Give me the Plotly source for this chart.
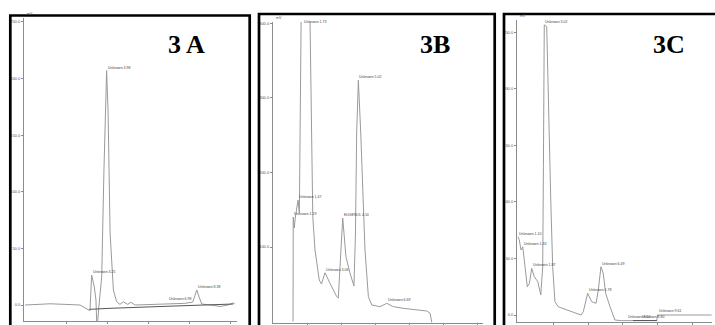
import plotly.graph_objects as go

W, H = 715, 325

# ---------------- Panel 3A data (time in min, signal in mV) ----------------
a_time = [0.0, 0.68, 1.22, 1.95, 2.68, 3.02, 3.17, 3.25, 3.38, 3.46, 3.51, 3.61,
          3.74, 3.85, 3.98, 4.05, 4.15, 4.31, 4.47, 4.63, 4.80, 5.01, 5.16, 5.37,
          6.10, 6.93, 7.80, 8.18, 8.38, 8.49, 8.62, 9.17, 9.51, 9.90, 10.15, 10.24]
a_signal = [0, 0.9, 1.1, 0.6, 0, -3.5, -4.9, 26.5, 15.9, 4.4, -22, 0,
            24.7, 119, 207, 172, 63.6, 13.3, 2.9, 0.6, 2.9, 0.6, 2.4, 0,
            0.4, 1.3, 1.5, 2.6, 13.3, 7.1, 0.9, -0.3, -1.3, 0, 1.8, 0.9]
a_base_time = [3.14, 4.15, 6.93, 8.54, 10.15]
a_base_signal = [-3.8, -2.9, -1.1, 0, 0.9]
a_peak_time = [3.25, 3.98, 6.98, 8.38]
a_peak_signal = [26.5, 207, 2.6, 13.3]
a_peak_names = ["Unknown 3.25", "Unknown 3.98", "Unknown 6.98", "Unknown 8.38"]
a_yticks = [0, 50, 100, 150, 200, 250]
a_yticklabels = ["0.0", "50.0", "100.0", "150.0", "200.0", "250.0"]
a_xticks = [2, 4, 6, 8, 10]
a_xticklabels = ["2.0", "4.0", "6.0", "8.0", "10.0"]

# ---------------- Panel 3B data ----------------
b_time = [1.18, 1.19, 1.25, 1.31, 1.47, 1.55, 1.66, 1.92, 2.18, 2.34, 2.47, 2.72,
          2.85, 3.06, 3.35, 3.75, 3.84, 3.98, 4.10, 4.29, 4.53, 4.76, 4.85, 4.92,
          5.02, 5.16, 5.31, 5.41, 5.61, 5.81, 6.29, 6.69, 7.08, 7.66, 9.04, 9.24, 9.34]
b_signal = [0, 140.3, 125.5, 138.9, 163.1, 145.6, 420, 640, 400.3, 140.7, 96, 55.7,
            50.3, 65.5, 51.3, 33.3, 31.5, 96, 138.9, 87, 64.7, 47.6, 118.8, 253,
            324, 253, 140.7, 96, 33.3, 22.1, 19.9, 24.4, 19.9, 17.7, 14.1, 11, -1.5]
b_peak_time = [1.19, 1.47, 1.77, 3.06, 4.10, 5.02, 6.69]
b_peak_signal = [140.3, 163.1, 398, 65.5, 138.9, 324, 24.4]
b_peak_names = ["Unknown 1.19", "Unknown 1.47", "Unknown 1.73", "Unknown 3.06",
                "EUGENOL 4.10", "Unknown 5.02", "Unknown 6.69"]
b_yticks = [100, 200, 300, 400]
b_yticklabels = ["100.0", "200.0", "300.0", "400.0"]
b_xticks = [2, 4, 6, 8, 10, 12]
b_xticklabels = ["2.0", "4.0", "6.0", "8.0", "10.0", "12.0"]

# ---------------- Panel 3C data ----------------
c_time = [0.0, 0.07, 0.17, 0.27, 0.40, 0.53, 0.65, 0.78, 0.93, 1.13, 1.30, 1.41,
          1.45, 1.50, 1.64, 1.73, 1.87, 1.98, 2.11, 2.30, 3.07, 3.60, 3.73, 3.98,
          4.21, 4.46, 4.59, 4.74, 4.87, 5.01, 5.26, 5.54, 5.93, 7.93, 7.98, 11.07]
c_signal = [69.3, 66.4, 57.5, 60.4, 42.7, 25, 28.1, 41.3, 33.9, 29.5, 17.7, 42.7,
            131.2, 256.7, 255.1, 190.3, 101.8, 42.7, 11.8, 7.3, 2.9, 0, 2.9, 19.2,
            11.8, 10.4, 22.1, 42.7, 36.9, 19.2, 7.3, -4.4, -5.0, -4.9, 0, 0]
c_base_time = [6.57, 7.94]
c_base_signal = [-4.9, -4.9]
c_peak_time = [0.0, 0.27, 0.78, 1.50, 3.98, 4.74, 6.25, 7.05, 7.98]
c_peak_signal = [69.3, 60.4, 41.3, 256.7, 19.2, 42.7, -4.6, -4.6, 0.5]
c_peak_names = ["Unknown 1.10", "Unknown 1.33", "Unknown 1.87", "Unknown 3.02",
                "Unknown 5.78", "Unknown 6.49", "Unknown 8.52", "Unknown 8.80",
                "Unknown 9.61"]
c_yticks = [0, 50, 100, 150, 200, 250]
c_yticklabels = ["0.0", "50.0", "100.0", "150.0", "200.0", "250.0"]
c_xticks = [2, 4, 6, 8, 10]
c_xticklabels = ["2.0", "4.0", "6.0", "8.0", "10.0"]

panel_titles = ["3 A", "3B", "3C"]

# ---------------- layout helpers ----------------
def xdom(p0, p1):
    return [p0 / W, p1 / W]

def ydom(top, bottom):
    return [(H - bottom) / H, (H - top) / H]

TRACE = "#9a9a9a"
AXIS = "#8c8c8c"
TXT = "#555555"

fig = go.Figure()

panels = [
    dict(t=a_time, s=a_signal, bt=a_base_time, bs=a_base_signal,
         pt=a_peak_time, ps=a_peak_signal, pn=a_peak_names,
         yt=a_yticks, ytl=a_yticklabels, xt=a_xticks, xtl=a_xticklabels,
         xd=xdom(24, 237), yd=ydom(18, 321), xr=[-0.05, 10.34], yr=[-14.1, 253.5],
         minpx=238),
    dict(t=b_time, s=b_signal, bt=None, bs=None,
         pt=b_peak_time, ps=b_peak_signal, pn=b_peak_names,
         yt=b_yticks, ytl=b_yticklabels, xt=b_xticks, xtl=b_xticklabels,
         xd=xdom(273, 483), yd=ydom(22, 322.7), xr=[0, 12.35], yr=[-1.6, 402],
         minpx=484),
    dict(t=c_time, s=c_signal, bt=c_base_time, bs=c_base_signal,
         pt=c_peak_time, ps=c_peak_signal, pn=c_peak_names,
         yt=c_yticks, ytl=c_yticklabels, xt=c_xticks, xtl=c_xticklabels,
         xd=xdom(517, 712), yd=ydom(20, 321.7), xr=[-0.06, 11.09], yr=[-5.9, 261],
         minpx=698),
]

annotations = []
for i, p in enumerate(panels, start=1):
    sfx = "" if i == 1 else str(i)
    xref, yref = "x" + sfx, "y" + sfx
    fig.add_trace(go.Scatter(x=p["t"], y=p["s"], mode="lines",
                             line=dict(color=TRACE, width=1),
                             xaxis=xref, yaxis=yref, showlegend=False,
                             hoverinfo="skip"))
    if p["bt"] is not None:
        fig.add_trace(go.Scatter(x=p["bt"], y=p["bs"], mode="lines",
                                 line=dict(color="#555555", width=1),
                                 xaxis=xref, yaxis=yref, showlegend=False,
                                 hoverinfo="skip"))
    axis_common = dict(showgrid=False, zeroline=False, showline=True,
                       linecolor=AXIS, linewidth=1, ticks="outside",
                       ticklen=2, tickcolor=AXIS, tickwidth=1,
                       tickfont=dict(size=4, color=TXT, family="Liberation Sans"),
                       automargin=False, fixedrange=True)
    fig.update_layout(**{
        "xaxis" + sfx: dict(domain=p["xd"], range=p["xr"], anchor=yref,
                            tickvals=p["xt"], ticktext=p["xtl"], **axis_common),
        "yaxis" + sfx: dict(domain=p["yd"], range=p["yr"], anchor=xref,
                            tickvals=p["yt"], ticktext=p["ytl"], **axis_common),
    })
    for t, s, n in zip(p["pt"], p["ps"], p["pn"]):
        annotations.append(dict(x=t, y=s, xref=xref, yref=yref, text=n,
                                showarrow=False, xanchor="left", yanchor="bottom",
                                font=dict(size=3.5, color="#444444",
                                          family="Liberation Sans"),
                                borderpad=0))
    # axis unit labels
    annotations.append(dict(x=p["xd"][0], y=p["yd"][1], xref="paper", yref="paper",
                            text="mV", showarrow=False, xanchor="left",
                            yanchor="bottom", xshift=1,
                            font=dict(size=3.5, color=TXT, family="Liberation Sans")))
    annotations.append(dict(x=p["minpx"] / W, y=p["yd"][0], xref="paper", yref="paper",
                            text="min", showarrow=False, xanchor="left",
                            yanchor="top", yshift=-1,
                            font=dict(size=3.5, color=TXT, family="Liberation Sans")))

# panel titles
title_pos = [(186, 44), (435, 44), (669, 44)]
for txt, (px, py) in zip(panel_titles, title_pos):
    annotations.append(dict(x=px / W, y=(H - py) / H, xref="paper", yref="paper",
                            text="<b>" + txt + "</b>", showarrow=False,
                            xanchor="center", yanchor="middle",
                            font=dict(size=26, color="black",
                                      family="Liberation Serif")))

# panel frames (thick black borders, open at bottom / right edge)
frames = [(10.3, 249.7, 15.5), (259.0, 494.7, 14.0), (504.0, 760.0, 14.0)]
shapes = []
for x0, x1, top in frames:
    shapes.append(dict(type="rect", xref="paper", yref="paper",
                       x0=x0 / W, x1=x1 / W, y0=-0.2, y1=(H - top) / H,
                       line=dict(color="black", width=2.7),
                       fillcolor="rgba(0,0,0,0)", layer="above"))

fig.update_layout(width=W, height=H, margin=dict(l=0, r=0, t=0, b=0),
                  paper_bgcolor="white", plot_bgcolor="white",
                  template="none", showlegend=False,
                  annotations=annotations, shapes=shapes)

fig.write_html("out.html", config={"displayModeBar": False})
